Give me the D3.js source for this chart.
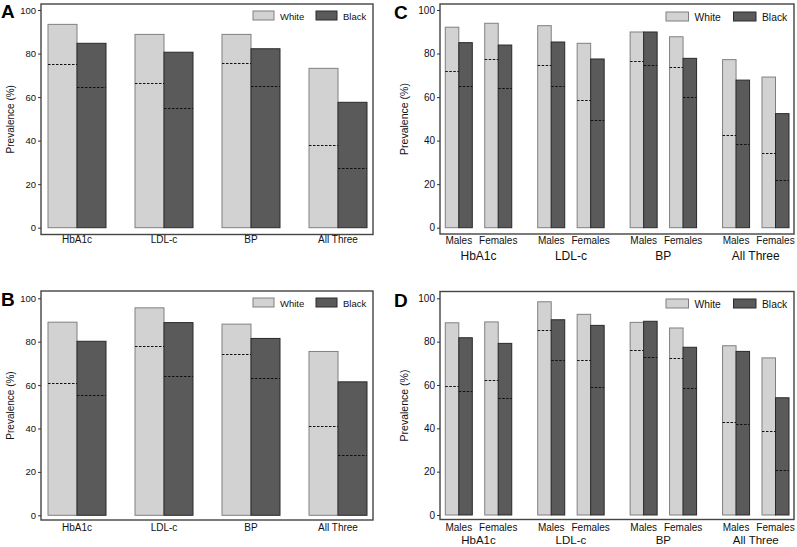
<!DOCTYPE html>
<html><head><meta charset="utf-8">
<script src="https://cdn.jsdelivr.net/npm/d3@7"></script>
<style>body{margin:0;background:#fff}svg{display:block;font-family:"Liberation Sans",Arial,Helvetica,sans-serif}</style>
</head><body><svg id="c" width="797" height="547"></svg>
<script>
const categories = ["HbA1c", "LDL-c", "BP", "All Three"];
const sexes = ["Males", "Females"];
const races = ["White", "Black"];
const yTicks = [0, 20, 40, 60, 80, 100];

// Panel A
const whiteA = [93.4, 88.8, 88.8, 73.2];
const blackA = [84.7, 80.6, 82.2, 57.6];
const whiteDashA = [75.0, 66.3, 75.5, 38.0];
const blackDashA = [64.6, 55.1, 65.2, 27.3];
// Panel B
const whiteB = [89.0, 95.6, 88.1, 75.5];
const blackB = [80.2, 88.8, 81.5, 61.5];
const whiteDashB = [61.0, 78.2, 74.4, 41.1];
const blackDashB = [55.3, 64.0, 63.1, 28.0];
// Panel C (Males, Females per category)
const whiteMalesC = [92.1, 92.8, 89.9, 77.2];
const whiteFemalesC = [93.9, 84.7, 87.7, 69.2];
const blackMalesC = [85.0, 85.3, 89.9, 67.8];
const blackFemalesC = [83.9, 77.5, 77.8, 52.4];
const whiteDashMalesC = [72.0, 74.9, 76.7, 42.4];
const whiteDashFemalesC = [77.5, 58.5, 73.7, 34.2];
const blackDashMalesC = [64.9, 64.9, 74.6, 38.3];
const blackDashFemalesC = [64.2, 49.6, 59.9, 21.8];
// Panel D
const whiteMalesD = [88.7, 98.4, 88.9, 78.1];
const whiteFemalesD = [89.1, 92.6, 86.3, 72.5];
const blackMalesD = [81.8, 90.1, 89.4, 75.5];
const blackFemalesD = [79.2, 87.5, 77.4, 54.1];
const whiteDashMalesD = [59.4, 85.4, 76.1, 43.1];
const whiteDashFemalesD = [62.2, 71.4, 72.3, 38.6];
const blackDashMalesD = [57.2, 71.5, 72.8, 41.8];
const blackDashFemalesD = [54.0, 59.2, 58.5, 20.9];

const svg = d3.select("#c");
const fills = {White: "#d2d2d2", Black: "#5a5a5a"};
const strokes = {White: "#808080", Black: "#2a2a2a"};

function buildSimple(w, b, wd, bd) {
  const rows = [];
  categories.forEach((c, i) => {
    rows.push({cat: c, sex: null, race: "White", v: w[i], d: wd[i]});
    rows.push({cat: c, sex: null, race: "Black", v: b[i], d: bd[i]});
  });
  return rows;
}
function buildSex(wm, wf, bm, bf, wdm, wdf, bdm, bdf) {
  const rows = [];
  categories.forEach((c, i) => {
    rows.push({cat: c, sex: "Males", race: "White", v: wm[i], d: wdm[i]});
    rows.push({cat: c, sex: "Males", race: "Black", v: bm[i], d: bdm[i]});
    rows.push({cat: c, sex: "Females", race: "White", v: wf[i], d: wdf[i]});
    rows.push({cat: c, sex: "Females", race: "Black", v: bf[i], d: bdf[i]});
  });
  return rows;
}

function panel(cfg) {
  const g = svg.append("g");
  const y = d3.scaleLinear().domain([0, 100]).range([cfg.y0, cfg.y100]);
  const x = d3.scaleBand().domain(categories).range(cfg.xr).paddingInner(cfg.padG).paddingOuter(0);
  let xs = null, xr;
  if (cfg.bySex) {
    xs = d3.scaleBand().domain(sexes).range([0, x.bandwidth()]).paddingInner(0.315).paddingOuter(0);
    xr = d3.scaleBand().domain(races).range([0, xs.bandwidth()]);
  } else {
    xr = d3.scaleBand().domain(races).range([0, x.bandwidth()]);
  }
  const bx = d => x(d.cat) + (xs ? xs(d.sex) : 0) + xr(d.race);

  g.selectAll("rect.bar").data(cfg.rows).join("rect").attr("class", "bar")
    .attr("x", bx).attr("width", xr.bandwidth())
    .attr("y", d => y(d.v)).attr("height", d => y(0) - y(d.v))
    .attr("fill", d => fills[d.race]).attr("stroke", d => strokes[d.race]).attr("stroke-width", 1);
  g.selectAll("line.dash").data(cfg.rows).join("line").attr("class", "dash")
    .attr("x1", bx).attr("x2", d => bx(d) + xr.bandwidth())
    .attr("y1", d => Math.round(y(d.d)) + 0.5).attr("y2", d => Math.round(y(d.d)) + 0.5)
    .attr("stroke", "#111").attr("stroke-width", 1).attr("stroke-dasharray", "2.5,1.5");

  g.append("rect").attr("x", cfg.fx0).attr("y", cfg.fy0)
    .attr("width", cfg.fx1 - cfg.fx0).attr("height", cfg.fy1 - cfg.fy0)
    .attr("fill", "none").attr("stroke", "#444").attr("stroke-width", 1.4);

  const ax = g.append("g").attr("transform", `translate(${cfg.fx0},0)`)
    .call(d3.axisLeft(y).tickValues(yTicks).tickSize(3).tickPadding(2).tickFormat(d3.format("d")));
  ax.select(".domain").remove();
  ax.selectAll(".tick line").attr("stroke", "#333");
  ax.selectAll(".tick text").attr("font-size", cfg.fs).attr("fill", "#111")
    .attr("font-family", '"Liberation Sans",Arial,sans-serif');

  g.append("text").attr("transform", `translate(${cfg.ytx},${(cfg.fy0 + cfg.fy1) / 2}) rotate(-90)`)
    .attr("text-anchor", "middle").attr("dominant-baseline", "central")
    .attr("font-size", cfg.yfs).attr("fill", "#111").text("Prevalence (%)");

  if (cfg.bySex) {
    categories.forEach(c => {
      sexes.forEach(s => {
        g.append("text").attr("x", x(c) + xs(s) + xs.bandwidth() / 2).attr("y", cfg.lab1)
          .attr("text-anchor", "middle").attr("font-size", cfg.fs).attr("fill", "#111").text(s);
      });
      g.append("text").attr("x", x(c) + x.bandwidth() / 2).attr("y", cfg.lab2)
        .attr("text-anchor", "middle").attr("font-size", cfg.gfs).attr("fill", "#111").text(c);
    });
  } else {
    categories.forEach(c => {
      g.append("text").attr("x", x(c) + x.bandwidth() / 2).attr("y", cfg.lab1)
        .attr("text-anchor", "middle").attr("font-size", cfg.gfs).attr("fill", "#111").text(c);
    });
  }

  races.forEach((r, i) => {
    const lx = cfg.legX[i];
    g.append("rect").attr("x", lx).attr("y", cfg.legY).attr("width", cfg.legW).attr("height", 9)
      .attr("fill", fills[r]).attr("stroke", strokes[r]).attr("stroke-width", 1);
    g.append("text").attr("x", lx + cfg.legW + 6).attr("y", cfg.legY + 8.5)
      .attr("font-size", cfg.lfs).attr("fill", "#111").text(r);
  });

  g.append("text").attr("x", cfg.letX).attr("y", cfg.letY).attr("font-size", 19)
    .attr("font-weight", "bold").attr("fill", "#000").text(cfg.letter);
}

panel({letter: "A", letX: 1, letY: 18, rows: buildSimple(whiteA, blackA, whiteDashA, blackDashA),
  bySex: false, xr: [48, 367], padG: 1 / 3, y0: 227.7, y100: 10,
  fx0: 41, fx1: 373, fy0: 4, fy1: 234.5, fs: 9.5, gfs: 10, yfs: 10, lfs: 9.5, ytx: 10,
  lab1: 243, legX: [253, 316], legY: 11, legW: 21});
panel({letter: "B", letX: 1, letY: 306, rows: buildSimple(whiteB, blackB, whiteDashB, blackDashB),
  bySex: false, xr: [48, 367], padG: 1 / 3, y0: 515.3, y100: 298.3,
  fx0: 41, fx1: 373, fy0: 291, fy1: 520, fs: 9.5, gfs: 10, yfs: 10, lfs: 9.5, ytx: 10,
  lab1: 530.5, legX: [253, 316], legY: 298, legW: 21});
panel({letter: "C", letX: 394, letY: 19, rows: buildSex(whiteMalesC, whiteFemalesC, blackMalesC, blackFemalesC,
    whiteDashMalesC, whiteDashFemalesC, blackDashMalesC, blackDashFemalesC),
  bySex: true, xr: [445.3, 789], padG: 0.281, y0: 227.7, y100: 10,
  fx0: 440, fx1: 794, fy0: 4, fy1: 234, fs: 10, gfs: 12, yfs: 10.5, lfs: 10.3, ytx: 404,
  lab1: 243.5, lab2: 259.5, legX: [666, 733.5], legY: 12, legW: 22.5});
panel({letter: "D", letX: 394, letY: 307, rows: buildSex(whiteMalesD, whiteFemalesD, blackMalesD, blackFemalesD,
    whiteDashMalesD, whiteDashFemalesD, blackDashMalesD, blackDashFemalesD),
  bySex: true, xr: [445.3, 789], padG: 0.281, y0: 515, y100: 298.3,
  fx0: 440, fx1: 794, fy0: 291.5, fy1: 519.5, fs: 10, gfs: 11.5, yfs: 10.5, lfs: 10.3, ytx: 404,
  lab1: 530.5, lab2: 544, legX: [666, 733.5], legY: 299, legW: 22.5});
</script></body></html>
